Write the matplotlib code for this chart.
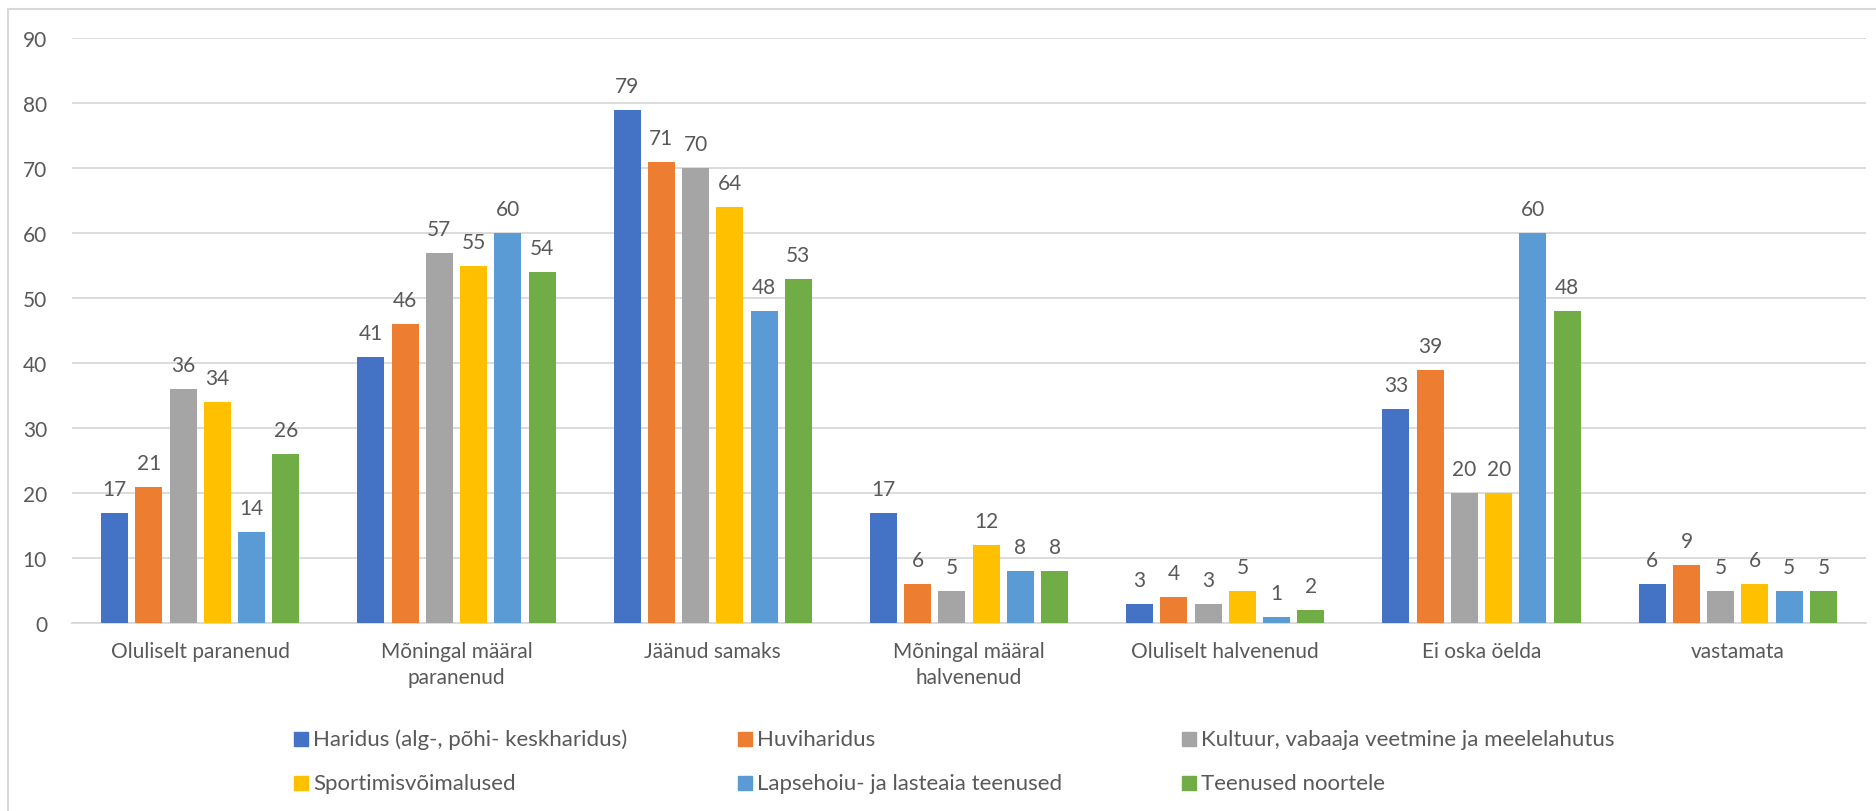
import numpy as np
import matplotlib
matplotlib.use("Agg")
from matplotlib import pyplot as plt
from matplotlib.patches import Rectangle

plt.rcParams['font.family'] = ['Lato', 'DejaVu Sans']

categories = ["Oluliselt paranenud", "Mõningal määral\nparanenud", "Jäänud samaks",
              "Mõningal määral\nhalvenenud", "Oluliselt halvenenud", "Ei oska öelda", "vastamata"]
series_names = ["Haridus (alg-, põhi- keskharidus)", "Huviharidus",
                "Kultuur, vabaaja veetmine ja meelelahutus", "Sportimisvõimalused",
                "Lapsehoiu- ja lasteaia teenused", "Teenused noortele"]
haridus = [17, 41, 79, 17, 3, 33, 6]
huviharidus = [21, 46, 71, 6, 4, 39, 9]
kultuur = [36, 57, 70, 5, 3, 20, 5]
sport = [34, 55, 64, 12, 5, 20, 6]
lapsehoid = [14, 60, 48, 8, 1, 60, 5]
noored = [26, 54, 53, 8, 2, 48, 5]
yticks = [0, 10, 20, 30, 40, 50, 60, 70, 80, 90]

colors = ["#4472C4", "#ED7D31", "#A5A5A5", "#FFC000", "#5B9BD5", "#70AD47"]
txt = "#595959"
grid = "#d9d9d9"
fs = 15

W, H = 1876, 812
fig = plt.figure(figsize=(W / 100, H / 100), dpi=100)
ax = fig.add_axes([72 / W, 1 - 624 / H, (1866 - 72) / W, (624 - 39) / H])

x = np.arange(len(categories))
step = 34.2 / 256
width = 27 / 256
for j, vals in enumerate([haridus, huviharidus, kultuur, sport, lapsehoid, noored]):
    bars = ax.bar(x + (j - 2.5) * step, vals, width, color=colors[j], zorder=3)
    ax.bar_label(bars, padding=10, fontsize=fs, color=txt)

ax.set_xlim(-0.5, len(categories) - 0.5)
ax.set_ylim(0, 90)
ax.set_yticks(yticks)
ax.yaxis.grid(True, color=grid, lw=1.3, zorder=0)
ax.set_xticks(x)
ax.set_xticklabels(categories, fontsize=fs, color=txt, linespacing=1.4)
ax.tick_params(axis='y', length=0, pad=18, labelsize=fs, labelcolor=txt)
ax.tick_params(axis='x', length=0, pad=13)
for s in ['top', 'right', 'left']:
    ax.spines[s].set_visible(False)
ax.spines['bottom'].set_color(grid)
ax.spines['bottom'].set_linewidth(1.3)

# legend, laid out like the Excel one
leg_x = [301, 745, 1189]
leg_y = [740, 784]
for i, name in enumerate(series_names):
    px = leg_x[i % 3]
    py = leg_y[i // 3]
    fig.patches.append(Rectangle(((px - 7) / W, 1 - (py + 7) / H), 14 / W, 14 / H,
                                 transform=fig.transFigure, color=colors[i]))
    fig.text((px + 12) / W, 1 - py / H, name, fontsize=16, color=txt, va='center', ha='left')

# chart border (cut off at right and bottom)
fig.patches.append(Rectangle((8 / W, -0.05), 1.2, 1 - 10 / H + 0.05, transform=fig.transFigure,
                             fill=False, edgecolor=grid, lw=1.5))

fig.savefig("out.png", dpi=100, facecolor="white")
